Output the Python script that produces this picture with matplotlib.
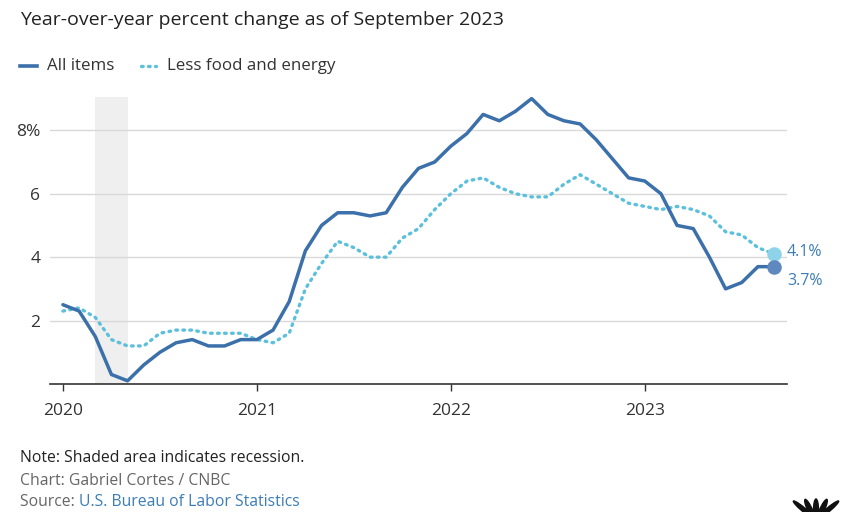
import numpy as np
import matplotlib.pyplot as plt
from matplotlib.patches import Ellipse

plt.rcParams['font.family'] = ['Open Sans', 'DejaVu Sans']

# Monthly CPI, year-over-year % change, Jan 2020 - Sep 2023
months = np.arange(45)  # 0 = Jan 2020
all_items = [2.5, 2.3, 1.5, 0.3, 0.1, 0.6, 1.0, 1.3, 1.4, 1.2, 1.2, 1.4,
             1.4, 1.7, 2.6, 4.2, 5.0, 5.4, 5.4, 5.3, 5.4, 6.2, 6.8, 7.0,
             7.5, 7.9, 8.5, 8.3, 8.6, 9.0, 8.5, 8.3, 8.2, 7.7, 7.1, 6.5,
             6.4, 6.0, 5.0, 4.9, 4.0, 3.0, 3.2, 3.7, 3.7]
core = [2.3, 2.4, 2.1, 1.4, 1.2, 1.2, 1.6, 1.7, 1.7, 1.6, 1.6, 1.6,
        1.4, 1.3, 1.6, 3.0, 3.8, 4.5, 4.3, 4.0, 4.0, 4.6, 4.9, 5.5,
        6.0, 6.4, 6.5, 6.2, 6.0, 5.9, 5.9, 6.3, 6.6, 6.3, 6.0, 5.7,
        5.6, 5.5, 5.6, 5.5, 5.3, 4.8, 4.7, 4.3, 4.1]
year_ticks = [0, 12, 24, 36]
year_labels = ['2020', '2021', '2022', '2023']
y_ticks = [2, 4, 6, 8]
y_labels = ['2', '4', '6', '8%']
recession = (2, 4)

c_all = '#3b70aa'
c_core = '#5cc0dd'
c_label = '#3d7db6'

fig = plt.figure(figsize=(8.5, 5.12), dpi=100)
ax = fig.add_axes([50/850, 1 - 384/512, 737/850, 287/512])

ax.axvspan(recession[0], recession[1], color='#efefef', zorder=0, lw=0)
for yv in y_ticks:
    ax.axhline(yv, color='#d9d9d9', lw=1, zorder=1)

ax.plot(months, core, color=c_core, lw=2.4, linestyle=(0, (0.5, 1.6)),
        dash_capstyle='round', zorder=3)
ax.plot(months, all_items, color=c_all, lw=2.5, solid_joinstyle='round',
        solid_capstyle='round', zorder=4)

ax.scatter([months[-1]], [core[-1]], s=110, color='#8fd3ea', zorder=5, lw=0)
ax.scatter([months[-1]], [all_items[-1]], s=110, color='#5f88bf', zorder=5, lw=0)
ax.text(months[-1] + 0.8, core[-1] + 0.05, f'{core[-1]}%', color=c_label,
        fontsize=11.5, va='center', ha='left', clip_on=False)
ax.text(months[-1] + 0.8, all_items[-1] - 0.45, f'{all_items[-1]}%', color=c_label,
        fontsize=11.5, va='center', ha='left', clip_on=False)

ax.set_xlim(-0.8, 44.8)
ax.set_ylim(0, 9.05)
ax.set_xticks(year_ticks)
ax.set_xticklabels(year_labels)
ax.set_yticks(y_ticks)
ax.set_yticklabels(y_labels)
ax.tick_params(axis='x', length=5, width=1, color='#333333', labelsize=12.5,
               labelcolor='#333333', pad=9)
ax.tick_params(axis='y', length=0, labelsize=12.5, labelcolor='#333333', pad=7)
for side in ['top', 'right', 'left']:
    ax.spines[side].set_visible(False)
ax.spines['bottom'].set_color('#333333')
ax.spines['bottom'].set_linewidth(1.2)

# Header
fig.text(20/850, 1 - 20/512, 'Year-over-year percent change as of September 2023',
         fontsize=14, color='#222222', va='center', ha='left')
fig.lines.append(plt.Line2D([20/850, 37/850], [1 - 66/512, 1 - 66/512],
                            color=c_all, lw=2.6, transform=fig.transFigure))
fig.lines.append(plt.Line2D([141/850, 156/850], [1 - 66/512, 1 - 66/512],
                            color=c_core, lw=2.4, linestyle=(0, (0.5, 1.6)),
                            dash_capstyle='round', transform=fig.transFigure))
fig.text(47/850, 1 - 66/512, 'All items', fontsize=12.2, color='#333333',
         va='center', ha='left')
fig.text(167/850, 1 - 66/512, 'Less food and energy', fontsize=12.2,
         color='#333333', va='center', ha='left')

# Footer
fig.text(20/850, 1 - 458/512, 'Note: Shaded area indicates recession.',
         fontsize=11.3, color='#222222', va='center', ha='left')
fig.text(20/850, 1 - 481/512, 'Chart: Gabriel Cortes / CNBC',
         fontsize=11.3, color='#666666', va='center', ha='left')
src = fig.text(20/850, 1 - 502/512, 'Source: ', fontsize=11.3, color='#666666',
               va='center', ha='left')
fig.canvas.draw()
bb = src.get_window_extent()
fig.text(bb.x1 / fig.bbox.width, 1 - 502/512, 'U.S. Bureau of Labor Statistics',
         fontsize=11.3, color=c_label, va='center', ha='left')

# Peacock logo fragment (bottom right, cropped)
for dx, ang in zip([-11, -5, 1, 7, 13], [35, 15, 0, -15, -35]):
    fig.patches.append(Ellipse(((815 + dx)/850, 1 - 510/512), 5/850, 22/512,
                               angle=ang, color='#111111',
                               transform=fig.transFigure))

fig.savefig('out.png', dpi=100, facecolor='white')
